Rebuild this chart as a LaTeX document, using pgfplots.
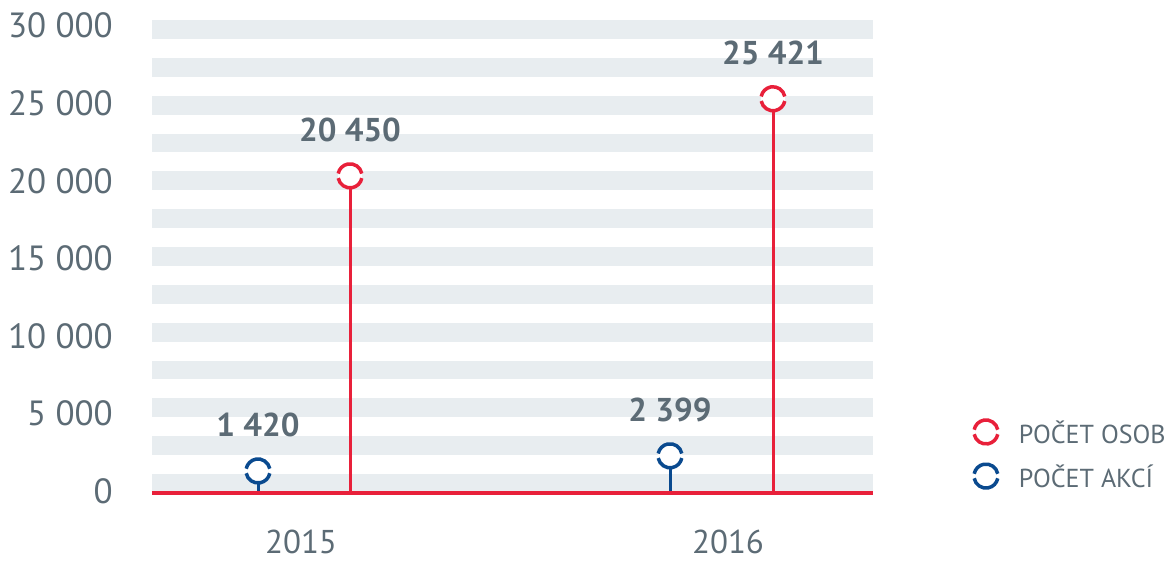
\documentclass[border=0pt]{standalone}
\usepackage{fontspec}
\setmainfont{PT Sans}
\usepackage{pgfplots}
\pgfplotsset{compat=1.18}
\definecolor{cred}{HTML}{E8203A}
\definecolor{cblue}{HTML}{0A4A8F}
\definecolor{ctext}{HTML}{5C6B75}
\definecolor{cstripe}{HTML}{E8EDF0}
\pgfdeclareplotmark{gapcirc}{%
  \pgfpathcircle{\pgfpointorigin}{\pgfplotmarksize}%
  \pgfsetfillcolor{white}\pgfusepathqfill
  \pgfpathmoveto{\pgfpointpolar{11}{\pgfplotmarksize}}%
  \pgfpatharc{11}{169}{\pgfplotmarksize}%
  \pgfusepathqstroke
  \pgfpathmoveto{\pgfpointpolar{191}{\pgfplotmarksize}}%
  \pgfpatharc{191}{349}{\pgfplotmarksize}%
  \pgfusepathqstroke
}
\begin{document}
\begin{tikzpicture}
\useasboundingbox (0,0) rectangle (1168pt,564pt);
\begin{axis}[
  at={(152pt,71pt)}, anchor=south west,
  scale only axis, width=721pt, height=473pt,
  xmin=152, xmax=873, ymin=0, ymax=30500,
  clip=false,
  scaled y ticks=false,
  axis line style={draw=none},
  major tick length=0pt,
  xtick={301,728}, xticklabels={2015,2016},
  ytick={0,5000,10000,15000,20000,25000,30000},
  yticklabels={0,5 000,10 000,15 000,20 000,25 000,30 000},
  tick label style={text=ctext, inner sep=0pt},
  yticklabel style={font=\fontsize{35}{40}\selectfont, anchor=east, xshift=-39pt, yshift=2pt},
  xticklabel style={font=\fontsize{33}{38}\selectfont, anchor=base, yshift=-61pt},
  legend style={draw=none, fill=none, at={(1.137,0.157)}, anchor=north west,
    font=\fontsize{26}{30}\selectfont, text=ctext, row sep=18pt,
    inner sep=0pt, cells={anchor=west},
    nodes={inner sep=0pt, text depth=0pt},
    /tikz/every even column/.append style={column sep=0pt}},
  legend image code/.code={\draw[#1] plot coordinates {(14pt,0pt)}; \draw[draw=none] (0pt,0pt) -- (47pt,0pt);},
  nodes near coords style={font=\bfseries\fontsize{33}{38}\selectfont, text=ctext, anchor=base, yshift=34pt, inner sep=0pt},
]
\pgfplotsinvokeforeach{0,...,12}{
  \fill[cstripe] (axis cs:152,{#1*2440}) rectangle (axis cs:873,{#1*2440+1220});
}
\addlegendimage{only marks, mark=gapcirc, mark size=12pt, mark options={draw=cred, line width=3.5pt}}
\addlegendentry{POČET OSOB}
\addlegendimage{only marks, mark=gapcirc, mark size=12pt, mark options={draw=cblue, line width=3.5pt}}
\addlegendentry{POČET AKCÍ}
\addplot[forget plot, ycomb, draw=cblue, line width=3pt, mark=gapcirc, mark size=12pt,
  mark options={draw=cblue, line width=3.5pt},
  point meta=explicit symbolic, nodes near coords]
  coordinates {(258,1420) [1 420] (670,2399) [2 399]};
\addplot[forget plot, ycomb, draw=cred, line width=3pt, mark=gapcirc, mark size=12pt,
  mark options={draw=cred, line width=3.5pt},
  point meta=explicit symbolic, nodes near coords]
  coordinates {(350,20450) [20 450] (773,25421) [25 421]};
\draw[cred, line width=4pt] (axis cs:152,0) -- (axis cs:873,0);
\end{axis}
\end{tikzpicture}
\end{document}
